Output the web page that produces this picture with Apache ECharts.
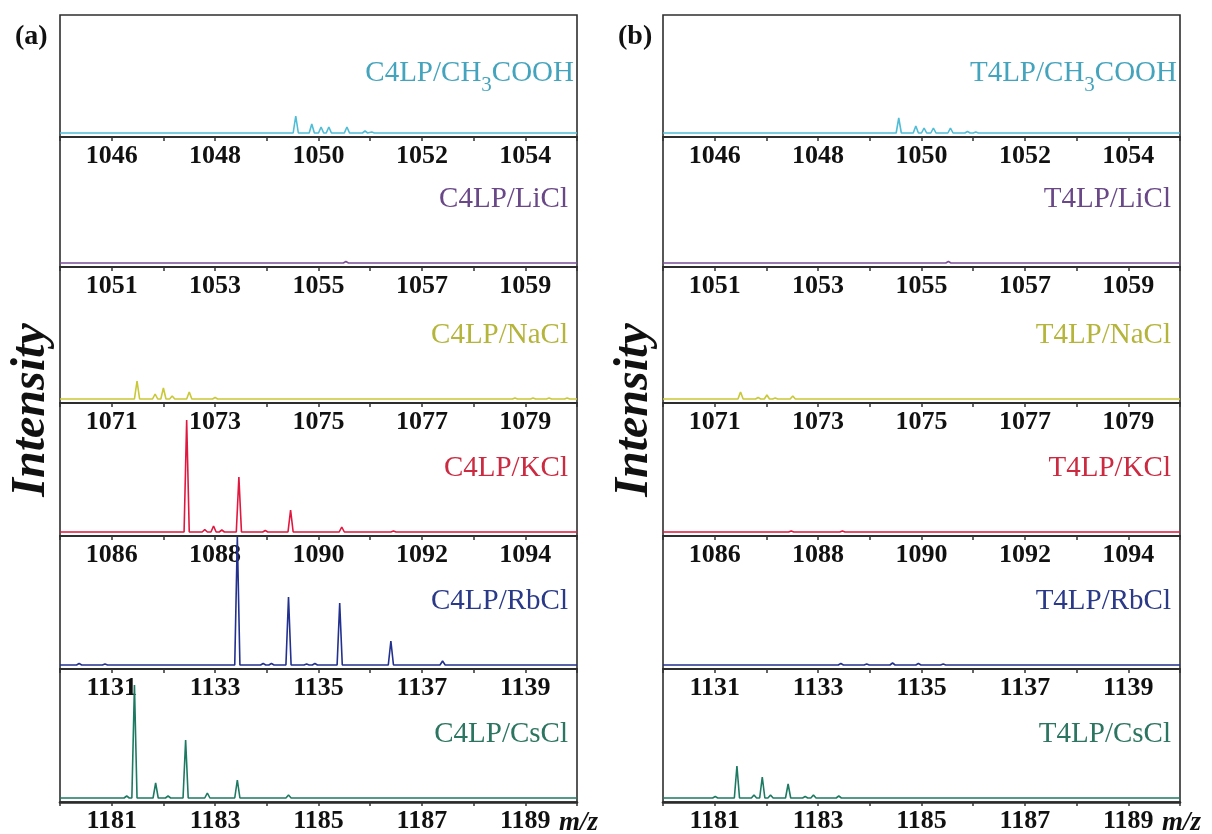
<!DOCTYPE html>
<html>
<head>
<meta charset="utf-8">
<script src="https://cdn.jsdelivr.net/npm/echarts@6/dist/echarts.min.js"></script>
<style>
  html, body { margin: 0; background: #fff; }
  #chart { width: 1212px; height: 834px; }
</style>
</head>
<body>
<div id="chart"></div>
<script>
// lower end of the m/z window of each stacked spectrum (window is 10 wide)
const rangeMin = [1045, 1050, 1070, 1085, 1130, 1180]
const salts = ['CH3COOH', 'LiCl', 'NaCl', 'KCl', 'RbCl', 'CsCl']
const lineColors = ['#4fbdd6', '#7a4e98', '#c9c835', '#e0173e', '#22308e', '#1d7a62']
const textColors = ['#45a4bd', '#6a4888', '#b5b53c', '#cc2a40', '#2a3988', '#2c7560']

// (a) C4LP: peak m/z and intensity (arbitrary units) per salt
const c4lpMz = [
  [1049.56, 1049.87, 1050.05, 1050.20, 1050.55, 1050.90, 1051.03],
  [1055.53],
  [1071.49, 1071.84, 1072.00, 1072.17, 1072.50, 1073.00, 1078.80, 1079.15, 1079.46, 1079.81],
  [1087.45, 1087.80, 1087.97, 1088.13, 1088.46, 1088.97, 1089.46, 1090.45, 1091.45],
  [1130.37, 1130.87, 1133.43, 1133.93, 1134.09, 1134.42, 1134.77, 1134.93, 1135.41, 1136.40, 1137.40],
  [1181.29, 1181.44, 1181.85, 1182.09, 1182.43, 1182.85, 1183.43, 1184.42]
]
const c4lpInt = [
  [17, 9, 6, 6, 6, 2, 1],
  [1.5],
  [18, 5, 11, 3, 7, 1.5, 1, 1, 1, 1],
  [112, 2.5, 6, 2, 55, 1.5, 22, 5, 1],
  [1.5, 1, 128, 1.5, 1.5, 68, 1, 1.5, 62, 24, 4],
  [2, 113, 15, 2, 58, 5, 18, 3]
]

// (b) T4LP
const t4lpMz = [
  [1049.56, 1049.89, 1050.05, 1050.23, 1050.56, 1050.89, 1051.05],
  [1055.52],
  [1071.50, 1071.84, 1072.01, 1072.17, 1072.51],
  [1087.48, 1088.47],
  [1133.44, 1133.94, 1134.44, 1134.94, 1135.42],
  [1181.01, 1181.43, 1181.76, 1181.92, 1182.08, 1182.42, 1182.75, 1182.91, 1183.40]
]
const t4lpInt = [
  [15, 7, 5, 5, 5, 1.5, 1],
  [1.5],
  [7, 1.5, 4, 1, 3],
  [1, 1],
  [1.5, 1, 2, 1.5, 1],
  [1.5, 32, 3, 21, 3, 14, 1.5, 3, 2]
]

const panels = [
  { letter: '(a)', host: 'C4LP', mz: c4lpMz, int: c4lpInt, left: 60 },
  { letter: '(b)', host: 'T4LP', mz: t4lpMz, int: t4lpInt, left: 663 }
]
const plotWidth = 517
const axisY = [15, 137, 267, 403, 536, 669, 802]
const serif = "'Liberation Serif', 'Times New Roman', serif"

// stick spectrum: flat baseline with a narrow spike at each peak
const buildLine = (min, mz, int) => {
  const pts = [[min, 0]]
  mz.forEach((m, k) => {
    pts.push([m - 0.05, 0], [m, int[k]], [m + 0.05, 0])
  })
  pts.push([min + 10, 0])
  return pts
}

const ctx = document.createElement('canvas').getContext('2d')
const textWidth = (s, size) => {
  ctx.font = size + 'px ' + serif
  return ctx.measureText(s).width
}
const nameText = (x, y, text, size, fill) => ({
  type: 'text', x, y,
  style: { text, fontFamily: serif, fontSize: size, fill, align: 'right', verticalAlign: 'middle' }
})

const grid = [], xAxis = [], yAxis = [], series = [], graphic = []

panels.forEach((p, pi) => {
  rangeMin.forEach((min, i) => {
    const idx = pi * 6 + i
    const top = axisY[i], h = axisY[i + 1] - axisY[i]
    grid.push({ left: p.left, width: plotWidth, top, height: h, show: true, borderColor: '#2e2e2e', borderWidth: 1.6 })
    xAxis.push({
      gridIndex: idx, type: 'value', min, max: min + 10, interval: 1,
      axisLine: { show: true, onZero: false, lineStyle: { color: '#2a2a2a', width: i === 5 ? 2.6 : 1.6 } },
      axisTick: { show: true, length: 4, lineStyle: { color: '#333', width: 1.5 } },
      axisLabel: {
        interval: 0, margin: 6, color: '#111', fontFamily: serif, fontWeight: 'bold', fontSize: 26,
        formatter: v => ((v - min) % 2 === 1 ? String(v) : '')
      },
      splitLine: { show: false }
    })
    yAxis.push({ gridIndex: idx, type: 'value', min: -4, max: h - 4, show: false })
    series.push({
      type: 'line', xAxisIndex: idx, yAxisIndex: idx,
      data: buildLine(min, p.mz[i], p.int[i]),
      showSymbol: false, silent: true,
      lineStyle: { color: lineColors[i], width: 1.6 }
    })

    // sample name inside each strip
    const right = p.left + plotWidth
    const c = textColors[i]
    if (salts[i] === 'CH3COOH') {
      const x0 = right - 3, y0 = axisY[i + 1] - 64
      const w1 = textWidth('COOH', 29), w2 = textWidth('3', 21)
      graphic.push(
        nameText(x0, y0, 'COOH', 29, c),
        nameText(x0 - w1, y0 + 12, '3', 21, c),
        nameText(x0 - w1 - w2, y0, p.host + '/CH', 29, c)
      )
    } else {
      graphic.push(nameText(right - 9, axisY[i + 1] - 68, p.host + '/' + salts[i], 29, c))
    }
  })

  graphic.push(
    { type: 'text', x: p.left - 45, y: 37,
      style: { text: p.letter, fontFamily: serif, fontWeight: 'bold', fontSize: 28, fill: '#111', align: 'left', verticalAlign: 'middle' } },
    { type: 'text', x: p.left - 28, y: 410, rotation: Math.PI / 2,
      style: { text: 'Intensity', fontFamily: serif, fontWeight: 'bold', fontStyle: 'italic', fontSize: 48, fill: '#111', align: 'center', verticalAlign: 'middle' } },
    { type: 'text', x: p.left + plotWidth - 18, y: 823,
      style: { text: 'm/z', fontFamily: serif, fontWeight: 'bold', fontStyle: 'italic', fontSize: 27, fill: '#111', align: 'left', verticalAlign: 'middle' } }
  )
})

const chart = echarts.init(document.getElementById('chart'))
chart.setOption({
  backgroundColor: '#fff',
  animation: false,
  grid, xAxis, yAxis, series, graphic
})
</script>
</body>
</html>
